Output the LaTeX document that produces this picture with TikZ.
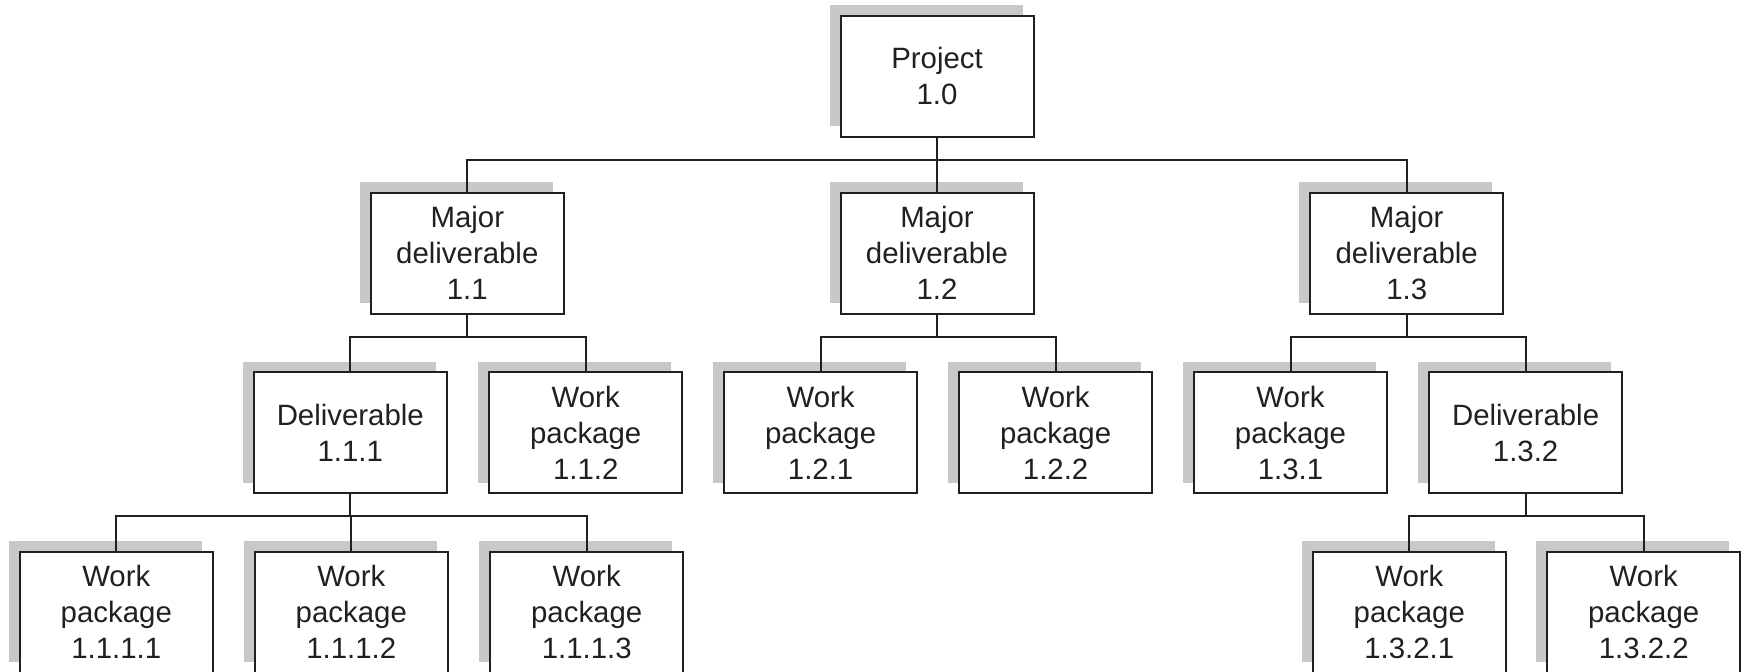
\documentclass[tikz,border=0pt]{standalone}
\usepackage{fontspec}
\setmainfont{Liberation Sans}
\usetikzlibrary{shadows}
\definecolor{shadowgray}{RGB}{199,200,202}
\definecolor{inkcol}{RGB}{35,31,32}
\tikzset{
  wbsbox/.style={draw=inkcol, line width=1pt, fill=white,
    minimum width=96.5pt, minimum height=60.5pt, inner sep=0pt,
    align=center, text=inkcol, font=\fontsize{14.7}{18}\selectfont,
    general shadow={fill=shadowgray, draw=none, shadow xshift=-5.5pt, shadow yshift=5.25pt}},
  conn/.style={draw=inkcol, line width=1pt}
}
\begin{document}
\begin{tikzpicture}[x=0.5pt,y=-0.5pt]
\useasboundingbox (0,0) rectangle (1741,671);
% level 1
\node[wbsbox] (p) at (937,76.2) {Project\\1.0};
% level 2
\node[wbsbox] (m1) at (467.3,253) {Major\\deliverable\\1.1};
\node[wbsbox] (m2) at (937,253) {Major\\deliverable\\1.2};
\node[wbsbox] (m3) at (1406.7,253) {Major\\deliverable\\1.3};
% level 3
\node[wbsbox] (d111) at (350.3,432.7) {Deliverable\\1.1.1};
\node[wbsbox] (w112) at (585.7,432.7) {Work\\package\\1.1.2};
\node[wbsbox] (w121) at (820.6,432.7) {Work\\package\\1.2.1};
\node[wbsbox] (w122) at (1055.6,432.7) {Work\\package\\1.2.2};
\node[wbsbox] (w131) at (1290.5,432.7) {Work\\package\\1.3.1};
\node[wbsbox] (d132) at (1525.6,432.7) {Deliverable\\1.3.2};
% level 4
\node[wbsbox] (w1111) at (116.3,612.2) {Work\\package\\1.1.1.1};
\node[wbsbox] (w1112) at (351.3,612.2) {Work\\package\\1.1.1.2};
\node[wbsbox] (w1113) at (586.7,612.2) {Work\\package\\1.1.1.3};
\node[wbsbox] (w1321) at (1409.3,612.2) {Work\\package\\1.3.2.1};
\node[wbsbox] (w1322) at (1643.7,612.2) {Work\\package\\1.3.2.2};
% connectors
\foreach \c in {m1,m2,m3} \draw[conn] (p.south) -- ++(0,22.6) -| (\c.north);
\foreach \c in {d111,w112} \draw[conn] (m1.south) -- ++(0,22.4) -| (\c.north);
\foreach \c in {w121,w122} \draw[conn] (m2.south) -- ++(0,22.4) -| (\c.north);
\foreach \c in {w131,d132} \draw[conn] (m3.south) -- ++(0,22.4) -| (\c.north);
\foreach \c in {w1111,w1112,w1113} \draw[conn] (d111.south) -- ++(0,21.8) -| (\c.north);
\foreach \c in {w1321,w1322} \draw[conn] (d132.south) -- ++(0,21.8) -| (\c.north);
\end{tikzpicture}
\end{document}
